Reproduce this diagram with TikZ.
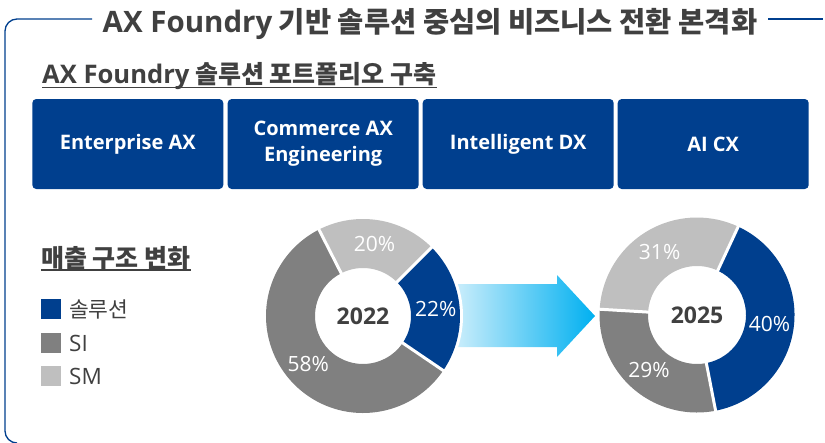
\documentclass[tikz,border=0pt]{standalone}
\usepackage{fontspec}
\setmainfont{Noto Sans CJK KR}
\newfontfamily\lat{Open Sans}
\usetikzlibrary{calc}
\definecolor{navy}{RGB}{0,63,142}
\definecolor{tgray}{RGB}{64,64,64}
\definecolor{sgray}{RGB}{128,128,128}
\definecolor{lgray}{RGB}{191,191,191}
\definecolor{cyanA}{RGB}{0,176,240}
\definecolor{cyanL}{RGB}{218,242,252}
\newcommand\ringseg[6]{%
  \fill[#6] ($(#1)+(#4:#2)$) arc[start angle=#4,end angle=#5,radius=#2]
    -- ($(#1)+(#5:#3)$) arc[start angle=#5,end angle=#4,radius=#3] -- cycle;}
\newcommand\ringcut[4]{%
  \draw[white,line width=3pt] ($(#1)+(#4:#3)$) -- ($(#1)+(#4:#2)$);}
\newcommand\latin[2]{{\lat\bfseries\fontsize{#1}{#1}\selectfont #2}}
\begin{document}
\begin{tikzpicture}[x=1pt,y=1pt,
  frame/.style={draw=navy,line width=1.3pt},
  solbox/.style={fill=navy,rounded corners=4pt,minimum width=191pt,minimum height=90pt,
    text=white,font=\lat\bfseries\fontsize{20}{26}\selectfont,align=center,inner sep=0pt},
  pct/.style={text=white,font=\lat\fontsize{21}{22}\selectfont,inner sep=0pt},
  year/.style={text=tgray,font=\lat\bfseries\fontsize{23}{24}\selectfont,inner sep=0pt},
  legbox/.style={minimum size=20pt,inner sep=0pt},
  legtxt/.style={anchor=west,text=tgray,font=\fontsize{21.5}{22}\selectfont,inner sep=0pt},
  heading/.style={anchor=west,text=tgray,font=\bfseries\fontsize{25}{26}\selectfont,inner sep=0pt},
  uline/.style={draw=tgray,line width=1.3pt}]
\useasboundingbox (0,0) rectangle (825,-442);
% frame and title
\node[text=tgray,font=\bfseries\fontsize{28.5}{30}\selectfont,inner sep=0pt] (title) at (430,-24)
  {\latin{29.5}{AX Foundry} 기반 솔루션 중심의 비즈니스 전환 본격화};
\draw[frame] (92,-19) -- (17,-19) arc[start angle=90,end angle=180,radius=12]
  -- (5,-431) arc[start angle=180,end angle=270,radius=12] -- (17,-443);
\draw[frame] (768,-19) -- (823,-19);
% subtitle
\node[heading,font=\bfseries\fontsize{25}{26}\selectfont] (sub) at (42,-76) {\latin{25.6}{AX Foundry} 솔루션 포트폴리오 구축};
\draw[uline] ($(sub.west)+(0,-11.5)$) -- ($(sub.east)+(0,-11.5)$);
% boxes
\node[solbox] (b1) at (127.8,-144) {Enterprise AX};
\node[solbox] (b2) at (323.2,-144) {Commerce AX\\Engineering};
\node[solbox] (b3) at (518.2,-144) {Intelligent DX};
\node[solbox] (b4) at (713.2,-144) {AI CX};
% legend
\node[heading] (rev) at (41,-258) {매출 구조 변화};
\draw[uline] ($(rev.west)+(0,-12)$) -- ($(rev.east)+(0,-12)$);
\node[legbox,fill=navy] (l1) at (51,-309) {};
\node[legbox,fill=sgray] (l2) at (51,-343) {};
\node[legbox,fill=lgray] (l3) at (51,-376) {};
\node[legtxt] (t1) at (69,-309) {솔루션};
\node[legtxt,font=\lat\fontsize{22.5}{23}\selectfont] (t2) at (69,-343) {SI};
\node[legtxt,font=\lat\fontsize{22.5}{23}\selectfont] (t3) at (69,-376) {SM};
% arrow
\coordinate (c1) at (363,-316);
\coordinate (c2) at (697,-315);
\shade[left color=cyanL,middle color=cyanA,right color=cyanA]
  (445,-284) -- (557,-284) -- (557,-275) -- (595,-316) -- (557,-357) -- (557,-347) -- (445,-347) -- cycle;
\fill[white] (c1) circle[radius=100];
% donut 2022
\ringseg{c1}{97}{48}{45}{-34.2}{navy}
\ringseg{c1}{97}{48}{-34.2}{-243}{sgray}
\ringseg{c1}{97}{48}{-243}{-315}{lgray}
\ringcut{c1}{99}{46}{45}
\ringcut{c1}{99}{46}{-34.2}
\ringcut{c1}{99}{46}{-243}
\node[year] (y1) at (c1) {2022};
\node[pct] (p11) at ($(c1)+(5.4:73)$) {22\%};
\node[pct] (p12) at ($(c1)+(-138.6:73)$) {58\%};
\node[pct] (p13) at ($(c1)+(81:73)$) {20\%};
% donut 2025
\ringseg{c2}{97.5}{49}{65}{-79}{navy}
\ringseg{c2}{97.5}{49}{-79}{-183.4}{sgray}
\ringseg{c2}{97.5}{49}{-183.4}{-295}{lgray}
\ringcut{c2}{100}{47}{65}
\ringcut{c2}{100}{47}{-79}
\ringcut{c2}{100}{47}{-183.4}
\node[year] (y2) at (c2) {2025};
\node[pct] (p21) at ($(c2)+(-7:73)$) {40\%};
\node[pct] (p22) at ($(c2)+(-131.2:73)$) {29\%};
\node[pct] (p23) at ($(c2)+(120.8:73)$) {31\%};
\end{tikzpicture}
\end{document}
